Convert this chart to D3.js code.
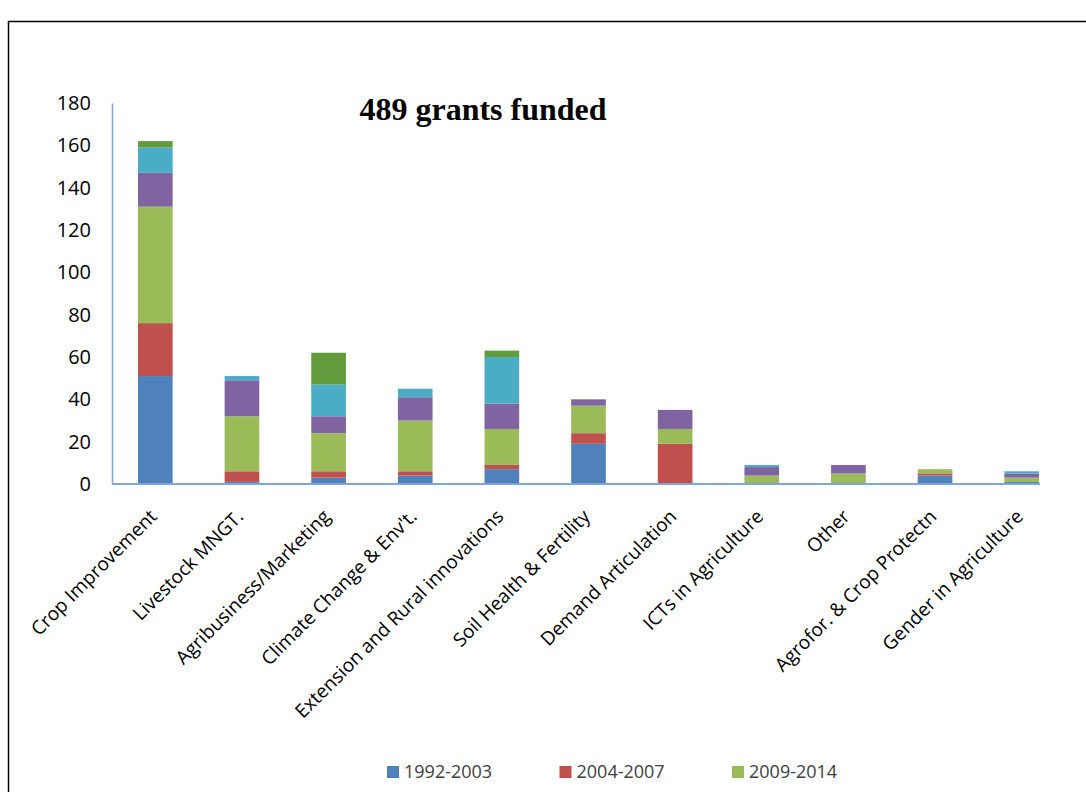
<!DOCTYPE html>
<html>
<head>
  <title>489 grants funded</title>
  <script src="https://d3js.org/d3.v7.min.js"></script>
  <style>
    body { margin: 0; background: #fff; }
    svg { display: block; }
  </style>
</head>
<body>
  <svg id="chart"></svg>

  <script>
    // categories along the x axis
    var categories = ["Crop Improvement", "Livestock MNGT.", "Agribusiness/Marketing",
      "Climate Change & Env't.", "Extension and Rural innovations", "Soil Health & Fertility",
      "Demand Articulation", "ICTs in Agriculture", "Other", "Agrofor. & Crop Protectn",
      "Gender in Agriculture"];

    // series names (only the first three show in the picture, the rest of the legend is cut off)
    var seriesNames = ["1992-2003", "2004-2007", "2009-2014", "Series 4", "Series 5", "Series 6"];
    var legendShown = 3;

    // values per series, one per category
    var s1 = [51, 1, 3, 4, 7, 19, 0, 0, 0, 4, 1];
    var s2 = [25, 5, 3, 2, 2, 5, 19, 0, 0, 1, 0];
    var s3 = [55, 26, 18, 24, 17, 13, 7, 4, 5, 2, 2];
    var s4 = [16, 17, 8, 11, 12, 3, 9, 4, 4, 0, 2];
    var s5 = [12, 2, 15, 4, 22, 0, 0, 1, 0, 0, 1];
    var s6 = [3, 0, 15, 0, 3, 0, 0, 0, 0, 0, 0];

    var yTicks = [0, 20, 40, 60, 80, 100, 120, 140, 160, 180];

    var colors = ["#4f81bd", "#c0504d", "#9bbb59", "#8064a2", "#4bacc6", "#629b3c"];

    var allSeries = [s1, s2, s3, s4, s5, s6];
    var rows = categories.map(function(c, i) {
      var r = { cat: c };
      seriesNames.forEach(function(n, k) { r[n] = allSeries[k][i]; });
      return r;
    });

    var width = 1086, height = 792;
    var svg = d3.select("#chart").attr("width", width).attr("height", height);

    // outer frame (top and left edges visible)
    svg.append("path")
      .attr("d", "M8.5,792 L8.5,21.5 L1086,21.5")
      .attr("fill", "none")
      .attr("stroke", "#000")
      .attr("stroke-width", 1.5);

    var x = d3.scaleBand().domain(categories).range([112, 1065]).paddingInner(0.6).paddingOuter(0.3);
    var y = d3.scaleLinear().domain([0, 180]).range([484, 103]);

    var stack = d3.stack().keys(seriesNames)(rows);

    svg.append("g").selectAll("g")
      .data(stack)
      .join("g")
      .attr("fill", function(d, i) { return colors[i]; })
      .selectAll("rect")
      .data(function(d) { return d; })
      .join("rect")
      .attr("x", function(d) { return x(d.data.cat); })
      .attr("y", function(d) { return y(d[1]); })
      .attr("width", x.bandwidth())
      .attr("height", function(d) { return y(d[0]) - y(d[1]); });

    // y axis
    var yAxis = svg.append("g")
      .attr("transform", "translate(112,0)")
      .call(d3.axisLeft(y).tickValues(yTicks).tickSize(0).tickPadding(21));
    yAxis.select(".domain").attr("stroke", "#7ea6d9").attr("stroke-width", 1.5);
    yAxis.selectAll("text")
      .attr("font-family", "Open Sans")
      .attr("font-size", 20)
      .attr("fill", "#000");

    // x axis
    var xAxis = svg.append("g")
      .attr("transform", "translate(0,484)")
      .call(d3.axisBottom(x).tickSize(0).tickPadding(0));
    xAxis.select(".domain").attr("d", "M112,0H1040").attr("stroke", "#7ea6d9").attr("stroke-width", 2);
    xAxis.selectAll("text")
      .attr("font-family", "Open Sans")
      .attr("font-size", 19)
      .attr("fill", "#000")
      .attr("text-anchor", "end")
      .attr("dy", "0.35em")
      .attr("transform", "translate(-2,29) rotate(-45)");

    // title
    svg.append("text")
      .attr("x", 483)
      .attr("y", 120)
      .attr("text-anchor", "middle")
      .attr("font-family", "Liberation Serif")
      .attr("font-weight", "bold")
      .attr("font-size", 32)
      .text("489 grants funded");

    // legend: only the first row is inside the picture
    var legend = svg.append("g").selectAll("g")
      .data(seriesNames.slice(0, legendShown))
      .join("g")
      .attr("transform", function(d, i) {
        return "translate(" + (387 + i * 172.5) + ",766)";
      });
    legend.append("rect")
      .attr("width", 12).attr("height", 12)
      .attr("fill", function(d, i) { return colors[i]; });
    legend.append("text")
      .attr("x", 17).attr("y", 6).attr("dy", "0.35em")
      .attr("font-family", "Open Sans")
      .attr("font-size", 18)
      .attr("fill", "#404040")
      .text(function(d) { return d; });
  </script>
</body>
</html>
